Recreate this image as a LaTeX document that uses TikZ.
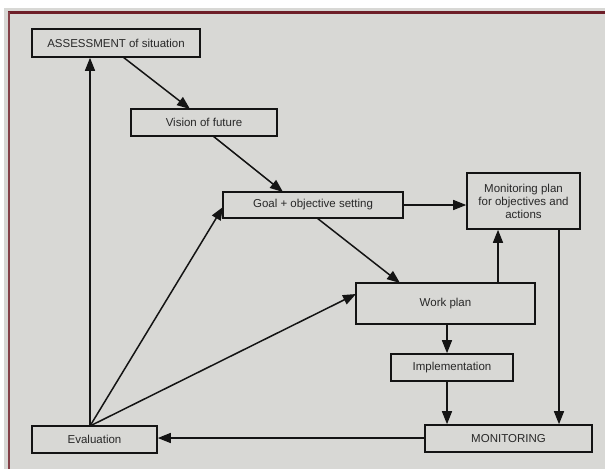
\documentclass[tikz,border=0pt]{standalone}
\usepackage{fontspec}
\setmainfont{Liberation Sans}
\usetikzlibrary{arrows.meta}
\definecolor{paper}{RGB}{216,216,213}
\definecolor{framered}{RGB}{110,30,40}
\definecolor{ink}{RGB}{20,20,20}
\definecolor{txt}{RGB}{40,40,40}
\begin{document}
\begin{tikzpicture}[x=1pt,y=-1pt,
  box/.style={draw=ink,line width=1.6pt,fill=paper,inner sep=0pt,
    font=\fontsize{11.5}{13}\selectfont,text=txt,align=center},
  arr/.style={draw=ink,line width=1.5pt,-{Triangle[length=13pt,width=10pt]}}]
% page and frame
\fill[white] (0,0) rectangle (605,469);
\fill[paper] (4,8) rectangle (605,469);
\useasboundingbox (0,0) rectangle (605,469);
\draw[framered,line width=2.5pt] (8,12.5) -- (605,12.5);
\draw[framered!85!white,line width=2pt] (9,12) -- (9,469);

% boxes
\node[box,minimum width=168pt,minimum height=28pt] (assess) at (116,43) {ASSESSMENT of situation};
\node[box,minimum width=146pt,minimum height=27pt] (vision) at (204,122.5) {Vision of future};
\node[box,minimum width=180pt,minimum height=26pt] (goal) at (313,205) {Goal + objective setting};
\node[box,minimum width=113pt,minimum height=56pt] (mplan) at (523.5,201) {Monitoring plan\\for objectives and\\actions};
\node[box,minimum width=179pt,minimum height=41pt] (work) at (445.5,303.5) {Work plan};
\node[box,minimum width=122pt,minimum height=27pt] (impl) at (452,367.5) {Implementation};
\node[box,minimum width=125pt,minimum height=27pt] (eval) at (94.5,439.5) {Evaluation};
\node[box,minimum width=167pt,minimum height=27pt] (monit) at (508.5,438.5) {MONITORING};

% connector end points
\coordinate (ej) at (90,426);
\coordinate (av) at (123,57);
\coordinate (vt) at (190,109);
\coordinate (vg) at (213,136);
\coordinate (gt) at (283,192);
\coordinate (gw) at (317,218);
\coordinate (wt) at (400,283);
\coordinate (gl) at (223,207);
\coordinate (wl) at (356,294);
\coordinate (wm) at (498,283);
\coordinate (wi) at (447,324);
\coordinate (im) at (447,381);
\coordinate (mm) at (559,229);
\coordinate (me) at (425,438);

% connectors
\draw[arr] (ej) -- (ej |- assess.south);
\draw[arr] (av) -- (vt);
\draw[arr] (vg) -- (gt);
\draw[arr] (goal.east) -- (goal.east -| mplan.west);
\draw[arr] (gw) -- (wt);
\draw[arr] (ej) -- (gl);
\draw[arr] (ej) -- (wl);
\draw[arr] (wm) -- (wm |- mplan.south);
\draw[arr] (wi) -- (wi |- impl.north);
\draw[arr] (im) -- (im |- monit.north);
\draw[arr] (mm) -- (mm |- monit.north);
\draw[arr] (me) -- (me -| eval.east);
\end{tikzpicture}
\end{document}
